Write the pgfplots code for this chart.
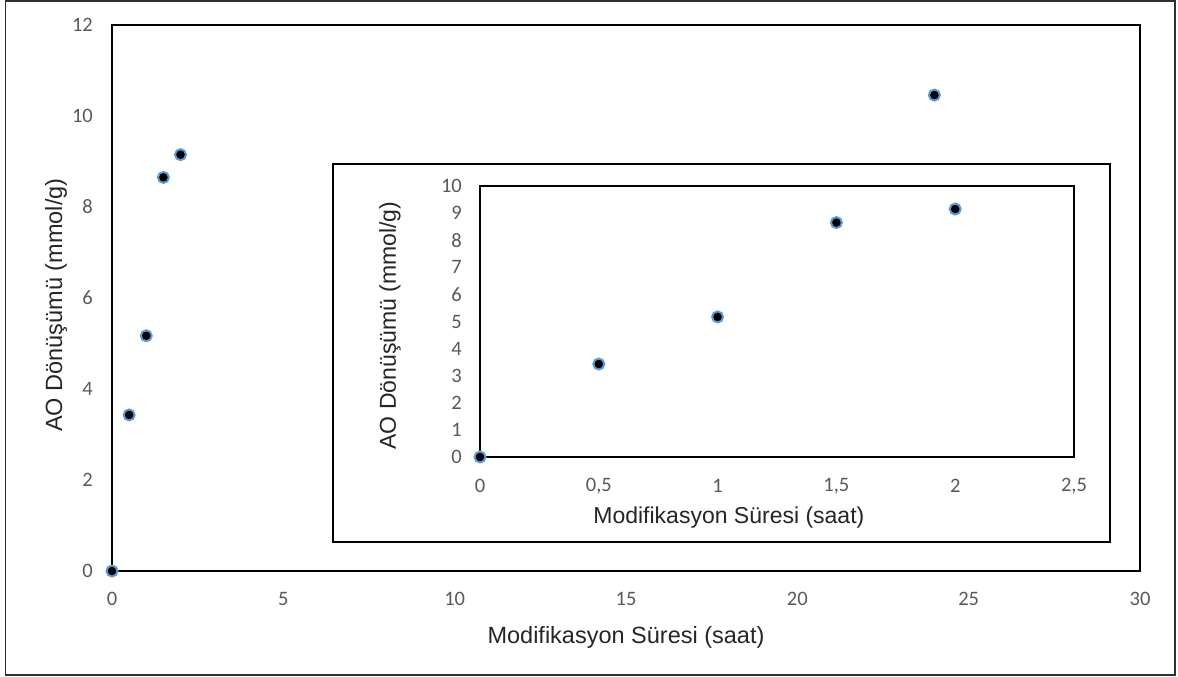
\documentclass[border=0pt]{standalone}
\usepackage{pgfplots}
\pgfplotsset{compat=1.18}
\usepackage{fontspec}
\setmainfont{Liberation Sans}
\newfontfamily\tickfont{Carlito}
\definecolor{tickgray}{HTML}{595959}
\definecolor{labelcol}{HTML}{262626}
\definecolor{mkblue}{HTML}{5B9BD5}
\definecolor{framegray}{HTML}{303030}

\pgfplotstableread{
x y
0 0
0.5 3.43
1 5.17
1.5 8.65
2 9.15
24 10.46
}\maindata

\pgfplotstableread{
x y
0 0
0.5 3.43
1 5.17
1.5 8.65
2 9.15
}\insetdata

\begin{document}
\begin{tikzpicture}[x=1pt,y=1pt]
\path[use as bounding box] (0pt,0pt) rectangle (1178pt,677pt);
\draw[line width=1.5pt, framegray] (5.5pt,2pt) rectangle (1175pt,676.2pt);
\begin{axis}[
  at={(112pt,106pt)}, anchor=south west,
  width=1028pt, height=546pt, scale only axis,
  xmin=0, xmax=30, ymin=0, ymax=12,
  xtick={0,5,10,15,20,25,30}, ytick={0,2,4,6,8,10,12},
  major tick length=0pt,
  axis line style={line width=1.8pt, black},
  /pgf/number format/assume math mode=true,
  xticklabel style={font=\tickfont\fontsize{20.5}{24}\selectfont, text=tickgray, anchor=center, inner sep=0pt, yshift=-28pt},
  yticklabel style={font=\tickfont\fontsize{20.5}{24}\selectfont, text=tickgray, anchor=east, inner sep=0pt, xshift=-19pt},
  xlabel={Modifikasyon Süresi (saat)},
  ylabel={AO Dönüşümü (mmol/g)},
  every axis x label/.style={at={(axis description cs:0.5,0)}, anchor=center, yshift=-66pt, font=\fontsize{23.5}{28}\selectfont, text=labelcol},
  every axis y label/.style={at={(axis description cs:0,0.487)}, xshift=-56pt, rotate=90, anchor=center, font=\fontsize{23.5}{28}\selectfont, text=labelcol},
  clip=false,
]
\addplot[only marks, mark=*, mark size=5.5pt, mark options={fill=black, draw=mkblue, line width=2pt}] table[x=x,y=y] {\maindata};
\end{axis}
\draw[line width=1.8pt, black, fill=white] (333pt,135pt) rectangle (1110pt,513pt);
\begin{axis}[
  at={(480pt,220pt)}, anchor=south west,
  width=594pt, height=271pt, scale only axis,
  xmin=0, xmax=2.5, ymin=0, ymax=10,
  xtick={0,0.5,1,1.5,2,2.5}, ytick={0,1,2,3,4,5,6,7,8,9,10},
  major tick length=0pt,
  axis line style={line width=1.8pt, black},
  /pgf/number format/assume math mode=true,
  /pgf/number format/use comma,
  xticklabel style={font=\tickfont\fontsize{20.5}{24}\selectfont, text=tickgray, anchor=center, inner sep=0pt, yshift=-29pt},
  yticklabel style={font=\tickfont\fontsize{20.5}{24}\selectfont, text=tickgray, anchor=east, inner sep=0pt, xshift=-18pt},
  xlabel={Modifikasyon Süresi (saat)},
  ylabel={AO Dönüşümü (mmol/g)},
  every axis x label/.style={at={(axis description cs:0.419,0)}, anchor=center, yshift=-61pt, font=\fontsize{23}{27}\selectfont, text=labelcol},
  every axis y label/.style={at={(axis description cs:0,0.485)}, xshift=-90pt, rotate=90, anchor=center, font=\fontsize{23}{27}\selectfont, text=labelcol},
  clip=false,
]
\addplot[only marks, mark=*, mark size=5.5pt, mark options={fill=black, draw=mkblue, line width=2pt}] table[x=x,y=y] {\insetdata};
\end{axis}
\end{tikzpicture}
\end{document}
